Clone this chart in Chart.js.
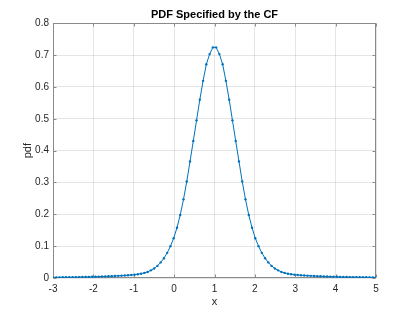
<!DOCTYPE html>
<html>
<head>
<meta charset="utf-8">
<script src="https://cdn.jsdelivr.net/npm/chart.js@4.4.0/dist/chart.umd.min.js"></script>
<style>
	html, body { margin: 0; padding: 0; background: #fff; }
</style>
</head>
<body>
<canvas id="pdf-chart" width="415" height="312"></canvas>
<script>
	// x grid: 100 points from -3 to 5
	var xValues = [
		-3.0000, -2.9192, -2.8384, -2.7576, -2.6768, -2.5960, -2.5152, -2.4343, -2.3535, -2.2727,
		-2.1919, -2.1111, -2.0303, -1.9495, -1.8687, -1.7879, -1.7071, -1.6263, -1.5455, -1.4646,
		-1.3838, -1.3030, -1.2222, -1.1414, -1.0606, -0.9798, -0.8990, -0.8182, -0.7374, -0.6566,
		-0.5758, -0.4949, -0.4141, -0.3333, -0.2525, -0.1717, -0.0909, -0.0101, 0.0707, 0.1515,
		0.2323, 0.3131, 0.3939, 0.4747, 0.5556, 0.6364, 0.7172, 0.7980, 0.8788, 0.9596,
		1.0404, 1.1212, 1.2020, 1.2828, 1.3636, 1.4444, 1.5253, 1.6061, 1.6869, 1.7677,
		1.8485, 1.9293, 2.0101, 2.0909, 2.1717, 2.2525, 2.3333, 2.4141, 2.4949, 2.5758,
		2.6566, 2.7374, 2.8182, 2.8990, 2.9798, 3.0606, 3.1414, 3.2222, 3.3030, 3.3838,
		3.4646, 3.5455, 3.6263, 3.7071, 3.7879, 3.8687, 3.9495, 4.0303, 4.1111, 4.1919,
		4.2727, 4.3535, 4.4343, 4.5152, 4.5960, 4.6768, 4.7576, 4.8384, 4.9192, 5.0000
	];

	var pdfValues = [
		0.0019, 0.0020, 0.0021, 0.0022, 0.0023, 0.0024, 0.0026, 0.0027, 0.0029, 0.0031,
		0.0033, 0.0035, 0.0037, 0.0040, 0.0043, 0.0046, 0.0050, 0.0054, 0.0058, 0.0063,
		0.0068, 0.0074, 0.0080, 0.0087, 0.0095, 0.0105, 0.0118, 0.0135, 0.016, 0.019,
		0.024, 0.030, 0.038, 0.049, 0.062, 0.079, 0.100, 0.125, 0.158, 0.198,
		0.247, 0.303, 0.366, 0.430, 0.495, 0.560, 0.619, 0.671, 0.703, 0.724,
		0.724, 0.703, 0.671, 0.619, 0.560, 0.495, 0.430, 0.366, 0.303, 0.247,
		0.198, 0.158, 0.125, 0.100, 0.079, 0.062, 0.049, 0.038, 0.030, 0.024,
		0.019, 0.016, 0.0135, 0.0118, 0.0105, 0.0095, 0.0087, 0.0080, 0.0074, 0.0068,
		0.0063, 0.0058, 0.0054, 0.0050, 0.0046, 0.0043, 0.0040, 0.0037, 0.0035, 0.0033,
		0.0031, 0.0029, 0.0027, 0.0026, 0.0024, 0.0023, 0.0022, 0.0021, 0.0020, 0.0019
	];

	var xTicks = [-3, -2, -1, 0, 1, 2, 3, 4, 5];
	var yTicks = [0, 0.1, 0.2, 0.3, 0.4, 0.5, 0.6, 0.7, 0.8];

	var FONT = "'Liberation Sans', Arial, Helvetica, sans-serif";
	var AXIS_COLOR = "#262626";
	var BOX_COLOR = "#8a8a8a";

	function setTicks(list){
		return function(scale){
			scale.ticks = list.map(function(v){ return {value: v}; });
		};
	}

	// matlab style box with inward ticks, drawn under the data
	var boxPlugin = {
		id: "matlabBox",
		beforeDatasetsDraw: function(chart){
			var a = chart.chartArea;
			var ctx = chart.ctx;
			var l = Math.round(a.left) + 0.5;
			var r = Math.round(a.right) - 0.5;
			var t = Math.round(a.top) + 0.5;
			var b = Math.round(a.bottom) - 0.5;
			var len = 3;

			ctx.save();
			ctx.strokeStyle = BOX_COLOR;
			ctx.lineWidth = 1;
			ctx.strokeRect(l, t, r - l, b - t);

			ctx.beginPath();
			xTicks.forEach(function(v){
				var px = Math.round(chart.scales.x.getPixelForValue(v)) + 0.5;
				ctx.moveTo(px, b); ctx.lineTo(px, b - len);
				ctx.moveTo(px, t); ctx.lineTo(px, t + len);
			});
			yTicks.forEach(function(v){
				var py = Math.round(chart.scales.y.getPixelForValue(v)) + 0.5;
				ctx.moveTo(l, py); ctx.lineTo(l + len, py);
				ctx.moveTo(r, py); ctx.lineTo(r - len, py);
			});
			ctx.stroke();
			ctx.restore();
		}
	};

	var points = xValues.map(function(x, i){
		return {x: x, y: pdfValues[i]};
	});

	new Chart("pdf-chart", {
		type: "line",
		data: {
			datasets: [{
				data: points,
				borderColor: "#0072BD",
				borderWidth: 1,
				backgroundColor: "#0072BD",
				pointRadius: 1.2,
				pointBorderWidth: 0,
				pointBackgroundColor: "#0072BD",
				tension: 0,
				fill: false
			}]
		},
		options: {
			responsive: false,
			animation: false,
			devicePixelRatio: 1,
			layout: {padding: {left: 0, right: 39, top: 0, bottom: 0}},
			plugins: {
				legend: {display: false},
				tooltip: {enabled: false},
				title: {
					display: true,
					text: "PDF Specified by the CF",
					fullSize: false,
					color: "#000",
					font: {family: FONT, size: 11, weight: "bold"},
					padding: {top: 8, bottom: 2}
				}
			},
			scales: {
				x: {
					type: "linear",
					min: -3,
					max: 5,
					afterBuildTicks: setTicks(xTicks),
					afterFit: function(scale){ scale.height = 34; },
					grid: {color: "rgba(38,38,38,0.12)", drawTicks: false},
					border: {display: false},
					ticks: {
						color: AXIS_COLOR,
						font: {family: FONT, size: 10},
						padding: 5,
						maxRotation: 0,
						callback: function(v){ return String(v); }
					},
					title: {
						display: true,
						text: "x",
						color: AXIS_COLOR,
						font: {family: FONT, size: 11},
						padding: {top: 0, bottom: 3}
					}
				},
				y: {
					min: 0,
					max: 0.8,
					afterBuildTicks: setTicks(yTicks),
					afterFit: function(scale){ scale.width = 53; },
					grid: {color: "rgba(38,38,38,0.12)", drawTicks: false},
					border: {display: false},
					ticks: {
						color: AXIS_COLOR,
						font: {family: FONT, size: 10},
						padding: 4,
						callback: function(v){ return String(Math.round(v * 10) / 10); }
					},
					title: {
						display: true,
						text: "pdf",
						color: AXIS_COLOR,
						font: {family: FONT, size: 11},
						padding: {top: 21, bottom: 0}
					}
				}
			}
		},
		plugins: [boxPlugin]
	});
</script>
</body>
</html>
